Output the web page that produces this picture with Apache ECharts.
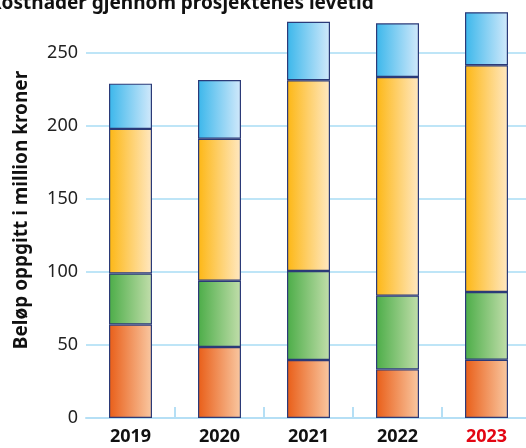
<!DOCTYPE html>
<html><head><meta charset="utf-8">
<script src="https://cdn.jsdelivr.net/npm/echarts@6/dist/echarts.min.js"></script>
<style>html,body{margin:0;padding:0;background:#fff}#c{width:526px;height:448px}</style>
</head><body><div id="c"></div>
<script>
const categories = ['2019','2020','2021','2022','2023'];
const orangeVals = [64, 48.6, 39.7, 33.3, 39.9];
const greenVals  = [35, 45.4, 61, 50.5, 46.4];
const yellowVals = [99, 97.3, 130.6, 149.8, 155.3];
const blueVals   = [31, 40.2, 40.1, 36.7, 36.3];
const yTicks = [0, 50, 100, 150, 200, 250];
const titleText = 'Kostnader gjennom prosjektenes levetid';
const yName = 'Beløp oppgitt i million kroner';

const FONT = 'Noto Sans';
function grad(a, b) {
  return new echarts.graphic.LinearGradient(0, 0, 1, 0, [{offset: 0, color: a}, {offset: 1, color: b}]);
}
function s(name, data, c1, c2) {
  return {
    name, type: 'bar', stack: 'tot', data, barWidth: 43,
    itemStyle: {color: grad(c1, c2), borderColor: '#2B3A78', borderWidth: 1.2},
    emphasis: {disabled: true}
  };
}
const chart = echarts.init(document.getElementById('c'));
chart.setOption({
  animation: false,
  grid: {left: 86, width: 445, top: -20, height: 438, outerBoundsMode: 'none', containLabel: false},
  xAxis: {
    type: 'category', data: categories,
    axisLine: {lineStyle: {color: '#B5DFF5', width: 2}},
    axisTick: {show: true, inside: true, length: 11, lineStyle: {color: '#B5DFF5', width: 2},
               interval: (i) => i > 0},
    axisLabel: {margin: 10, fontFamily: FONT, fontSize: 18, fontWeight: 'bold',
      color: (v) => v === '2023' ? '#E30613' : '#111'}
  },
  yAxis: {
    type: 'value', min: 0, max: 300, interval: 50,
    axisLine: {show: false}, axisTick: {show: false},
    splitLine: {lineStyle: {color: '#A8DCF5', width: 1.5}},
    axisLabel: {margin: 8, fontFamily: FONT, fontSize: 18, color: '#222',
      formatter: (v) => yTicks.includes(v) ? String(v) : ''}
  },
  graphic: [
    {type: 'text', left: -11, top: -6, style: {text: titleText, fontFamily: FONT, fontSize: 19, fontWeight: 'bold', fill: '#111'}},
    {type: 'text', x: 22, y: 210, rotation: Math.PI / 2,
      style: {text: yName, fontFamily: FONT, fontSize: 19, fontWeight: 'bold', fill: '#111', align: 'center', verticalAlign: 'middle'}}
  ],
  series: [
    s('Orange', orangeVals, '#E95E18', '#F9C8A2'),
    s('Green', greenVals, '#4CAD48', '#C2DEAB'),
    s('Yellow', yellowVals, '#FDB714', '#FFE8C2'),
    s('Blue', blueVals, '#3BB7EB', '#D2E9FB')
  ]
});
</script></body></html>
